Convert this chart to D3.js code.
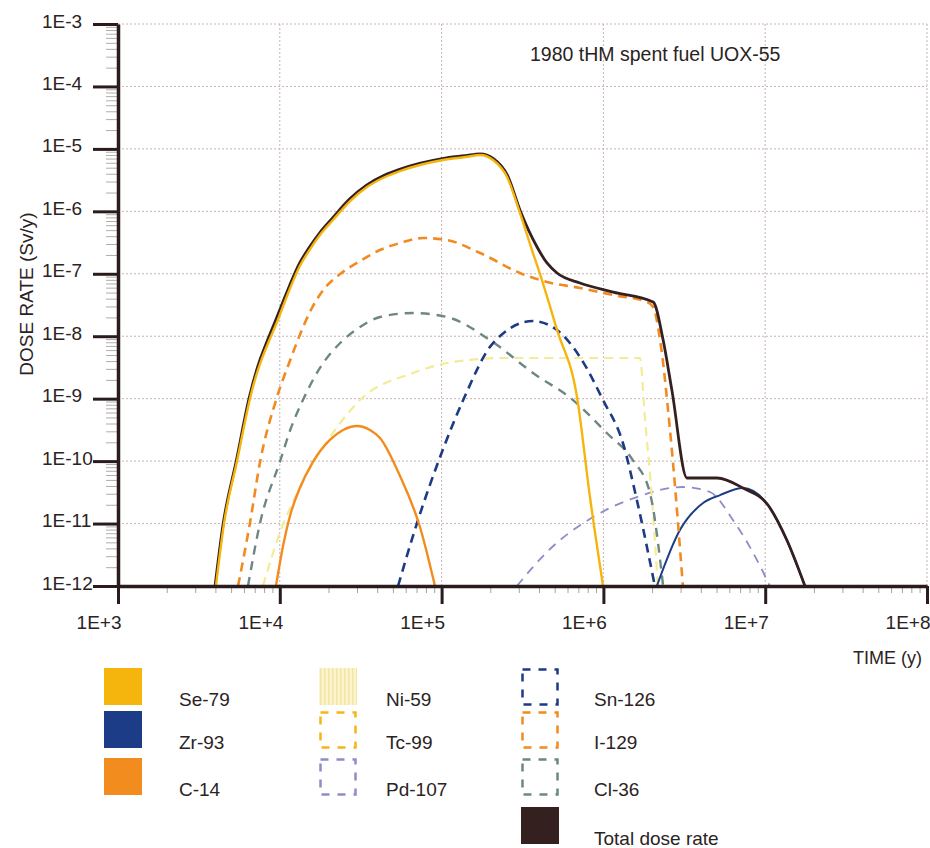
<!DOCTYPE html>
<html>
<head>
<meta charset="utf-8">
<script src="https://cdn.jsdelivr.net/npm/d3@7"></script>
<style>
  body { margin: 0; background: #fff; }
  svg { display: block; }
  text { font-family: "Liberation Sans", Arial, sans-serif; fill: #2b2323; }
</style>
</head>
<body>
<div id="chart"></div>
<script>
// tick values and labels
var xTicks = [1e3, 1e4, 1e5, 1e6, 1e7, 1e8];
var xTickLabels = ["1E+3", "1E+4", "1E+5", "1E+6", "1E+7", "1E+8"];
var yTicks = [1e-3, 1e-4, 1e-5, 1e-6, 1e-7, 1e-8, 1e-9, 1e-10, 1e-11, 1e-12];
var yTickLabels = ["1E-3", "1E-4", "1E-5", "1E-6", "1E-7", "1E-8", "1E-9", "1E-10", "1E-11", "1E-12"];

// [time (y), dose rate (Sv/y)]
var se79 = [[4.03e3,1e-12],[4.52e3,1e-11],[5.44e3,1e-10],[6.54e3,1e-9],[1.0e4,2.19e-8],[1.16e4,5.92e-8],
  [1.33e4,1.33e-7],[1.54e4,2.49e-7],[1.77e4,4.18e-7],[2.13e4,7.26e-7],[2.72e4,1.46e-6],[3.46e4,2.45e-6],
  [4.47e4,3.55e-6],[5.53e4,4.42e-6],[7.35e4,5.52e-6],[1.02e5,6.64e-6],[1.4e5,7.41e-6],[1.73e5,7.98e-6],
  [2.08e5,6.64e-6],[2.54e5,3.55e-6],[3.05e5,9.4e-7],[3.67e5,2.15e-7],[4.17e5,7.94e-8],[5.17e5,1.26e-8],
  [6.87e5,1.06e-9],[8.26e5,2.66e-11],[9.95e5,1e-12]];
var zr93 = [[2.14e6,1e-12],[2.97e6,7.87e-12],[4.13e6,2.13e-11],[5.26e6,2.86e-11],[7.29e6,3.71e-11],
  [1.04e7,1.98e-11],[1.36e7,5.45e-12],[1.76e7,1e-12]];
var c14 = [[9.47e3,1e-12],[1.05e4,4.53e-12],[1.16e4,1.37e-11],[1.33e4,3.71e-11],[1.6e4,9.66e-11],
  [2.04e4,2.18e-10],[2.46e4,3.15e-10],[3.0e4,3.65e-10],[3.61e4,3.15e-10],[4.16e4,2.34e-10],
  [5.53e4,5.77e-11],[7.35e4,8.8e-12],[9.1e4,1e-12]];
var ni59 = [[7.87e3,1e-12],[1.0e4,7.05e-12],[1.28e4,3.08e-11],[2.13e4,2.82e-10],[3.13e4,9.5e-10],
  [6.66e4,2.58e-9],[1.08e5,3.72e-9],[1.73e5,4.31e-9],[2.2e5,4.48e-9],[1.68e6,4.48e-9],
  [1.81e6,4.55e-10],[2.0e6,2.38e-11],[2.17e6,1e-12]];
var pd107 = [[2.92e5,1e-12],[4.68e5,3.91e-12],[8.63e5,1.27e-11],[1.61e6,2.66e-11],[3.1e6,3.85e-11],
  [4.56e6,3.2e-11],[6.32e6,1.14e-11],[8.05e6,4.2e-12],[1.07e7,1e-12]];
var sn126 = [[5.38e4,1e-12],[7.05e4,1.02e-11],[1.0e5,1.35e-10],[1.36e5,9.5e-10],[2.08e5,7.78e-9],
  [3.67e5,1.75e-8],[5.17e5,1.26e-8],[7.16e5,4.65e-9],[9.95e5,9.5e-10],[1.32e6,1.95e-10],
  [1.61e6,2.38e-11],[2.08e6,1e-12]];
var i129 = [[5.52e3,1e-12],[6.54e3,1.02e-11],[7.55e3,9.66e-11],[9.61e3,1.06e-9],[1.16e4,4.16e-9],
  [1.33e4,1.05e-8],[1.58e4,2.83e-8],[1.9e4,5.92e-8],[2.36e4,9.91e-8],[3.13e4,1.6e-7],[4.16e4,2.4e-7],
  [5.53e4,3.11e-7],[7.67e4,3.74e-7],[1.08e5,3.47e-7],[1.73e5,2.15e-7],[3.05e5,1.03e-7],[4.48e5,7.38e-8],
  [7.16e5,5.92e-8],[1.15e6,4.57e-8],[1.86e6,3.53e-8],[2.03e6,2.94e-8],[2.24e6,8.69e-9],[2.58e6,3.15e-10],
  [3.1e6,1e-12]];
var cl36 = [[6.36e3,1e-12],[7.55e3,1.02e-11],[1.0e4,9.66e-11],[1.16e4,3.15e-10],[1.39e4,9.5e-10],
  [1.77e4,3.1e-9],[2.36e4,7.78e-9],[3.13e4,1.4e-8],[4.16e4,2.03e-8],[6.66e4,2.35e-8],[1.08e5,2.03e-8],
  [1.99e5,8.69e-9],[3.67e5,2.58e-9],[6.49e5,9.5e-10],[1.05e6,2.82e-10],[1.52e6,1.04e-10],
  [1.94e6,3.08e-11],[2.34e6,1e-12]];
var total = [[3.98e3,1e-12],[4.47e3,1e-11],[5.38e3,1e-10],[6.45e3,1e-9],[9.85e3,2.4e-8],[1.15e4,6.5e-8],
  [1.32e4,1.45e-7],[1.53e4,2.7e-7],[1.76e4,4.5e-7],[2.12e4,7.85e-7],[2.7e4,1.57e-6],[3.44e4,2.62e-6],
  [4.45e4,3.8e-6],[5.5e4,4.7e-6],[7.3e4,5.85e-6],[1.01e5,7.0e-6],[1.4e5,7.8e-6],[1.73e5,8.35e-6],
  [2.09e5,7.0e-6],[2.55e5,3.8e-6],[3.07e5,1.0e-6],[3.89e5,2.68e-7],[4.48e5,1.49e-7],[5.17e5,1.03e-7],
  [7.16e5,7.11e-8],[1.15e6,5.1e-8],[2.03e6,3.53e-8],[2.34e6,8.7e-9],[2.65e6,1.37e-9],[3.29e6,5.36e-11],
  [5.04e6,5.36e-11],[7.29e6,3.71e-11],[1.04e7,1.98e-11],[1.36e7,5.45e-12],[1.76e7,1e-12]];

var legendNames = ["Se-79", "Zr-93", "C-14", "Ni-59", "Tc-99", "Pd-107", "Sn-126", "I-129", "Cl-36", "Total dose rate"];
var titleText = "1980 tHM spent fuel UOX-55";

// styles
var colors = {
  "Se-79": "#f6b50c", "Zr-93": "#1d3c88", "C-14": "#f38c1e", "Ni-59": "#f4eb97", "Tc-99": "#f5b519",
  "Pd-107": "#8c8cc8", "Sn-126": "#1c3a86", "I-129": "#f28a22", "Cl-36": "#6c8784", "Total dose rate": "#352020"
};

var series = [
  {name: "Pd-107", data: pd107, width: 1.8, dash: "9,7"},
  {name: "Ni-59", data: ni59, width: 2.2, dash: "9,6"},
  {name: "Cl-36", data: cl36, width: 2.4, dash: "9,7"},
  {name: "Sn-126", data: sn126, width: 2.6, dash: "9,6"},
  {name: "C-14", data: c14, width: 2.4, dash: null},
  {name: "Zr-93", data: zr93, width: 2, dash: null},
  {name: "I-129", data: i129, width: 2.6, dash: "9,6"},
  {name: "Total dose rate", data: total, width: 2.8, dash: null},
  {name: "Se-79", data: se79, width: 2.4, dash: null}
];

var svgWidth = 930, svgHeight = 848;
var margin = {left: 118, right: 3, top: 24, bottom: 262};

var svg = d3.select("#chart").append("svg")
  .attr("width", svgWidth)
  .attr("height", svgHeight);

// striped fill for the Ni-59 swatch
var pattern = svg.append("defs").append("pattern")
  .attr("id", "stripes").attr("patternUnits", "userSpaceOnUse")
  .attr("width", 4).attr("height", 4);
pattern.append("rect").attr("width", 4).attr("height", 4).attr("fill", "#fbf4cc");
pattern.append("rect").attr("width", 1.5).attr("height", 4).attr("fill", "#f2e6a4");

var x = d3.scaleLog().domain([1e3, 1e8]).range([margin.left, svgWidth - margin.right]);
var y = d3.scaleLog().domain([1e-12, 1e-3]).range([svgHeight - margin.bottom, margin.top]);

// grid
var grid = svg.append("g").attr("stroke", "#c6b3b3").attr("stroke-width", 1).attr("stroke-dasharray", "2,2");
grid.selectAll("line.h").data(yTicks).enter().append("line")
  .attr("x1", x(1e3)).attr("x2", x(1e8))
  .attr("y1", d => y(d)).attr("y2", d => y(d));
grid.selectAll("line.v").data(xTicks.slice(1)).enter().append("line")
  .attr("x1", d => x(d)).attr("x2", d => x(d))
  .attr("y1", y(1e-3)).attr("y2", y(1e-12));

// curves
var line = d3.line()
  .x(d => x(d[0]))
  .y(d => y(d[1]))
  .curve(d3.curveMonotoneX);

svg.append("g").selectAll("path").data(series).enter().append("path")
  .attr("d", d => line(d.data))
  .attr("fill", "none")
  .attr("stroke", d => colors[d.name])
  .attr("stroke-width", d => d.width)
  .attr("stroke-dasharray", d => d.dash)
  .attr("stroke-linejoin", "round");

// minor ticks
var xMinor = [], yMinor = [];
for (var e = 3; e < 8; e++) for (var k = 2; k < 10; k++) xMinor.push(k * Math.pow(10, e));
for (var e2 = -12; e2 < -3; e2++) for (var k2 = 2; k2 < 10; k2++) yMinor.push(k2 * Math.pow(10, e2));

var xMinorAxis = svg.append("g")
  .attr("transform", `translate(0, ${y(1e-12)})`)
  .call(d3.axisBottom(x).tickValues(xMinor).tickSize(7).tickFormat(""));
xMinorAxis.select(".domain").remove();
xMinorAxis.selectAll("line").attr("stroke", "#a9a0a0").attr("stroke-width", 1);

var yMinorAxis = svg.append("g")
  .attr("transform", `translate(${x(1e3)}, 0)`)
  .call(d3.axisLeft(y).tickValues(yMinor).tickSize(12).tickFormat(""));
yMinorAxis.select(".domain").remove();
yMinorAxis.selectAll("line").attr("stroke", "#b4abab").attr("stroke-width", 1);

// main axes
var xAxis = svg.append("g")
  .attr("transform", `translate(0, ${y(1e-12)})`)
  .call(d3.axisBottom(x).tickValues(xTicks).tickSize(18).tickSizeOuter(0)
    .tickFormat((d, i) => xTickLabels[i]));
xAxis.select(".domain").attr("stroke", "#2a1c1c").attr("stroke-width", 3.5);
xAxis.selectAll(".tick line").attr("stroke", "#2a1c1c").attr("stroke-width", 3);
xAxis.selectAll(".tick text")
  .attr("text-anchor", "end").attr("x", 3).attr("y", 43).attr("dy", null)
  .attr("font-size", 19).attr("fill", "#2b2323");

var yAxis = svg.append("g")
  .attr("transform", `translate(${x(1e3)}, 0)`)
  .call(d3.axisLeft(y).tickValues(yTicks).tickSize(25).tickSizeOuter(0)
    .tickFormat((d, i) => yTickLabels[i]));
yAxis.select(".domain").attr("stroke", "#2a1c1c").attr("stroke-width", 3.5);
yAxis.selectAll(".tick line").attr("stroke", "#2a1c1c").attr("stroke-width", 3);
yAxis.selectAll(".tick text")
  .attr("text-anchor", "start").attr("x", 42 - x(1e3)).attr("y", 3).attr("dy", null)
  .attr("font-size", 19).attr("fill", "#2b2323");

// titles
svg.append("text").attr("x", 530).attr("y", 61).attr("font-size", 19.5).text(titleText);
svg.append("text").attr("transform", "translate(33, 294) rotate(-90)")
  .attr("text-anchor", "middle").attr("font-size", 19).text("DOSE RATE (Sv/y)");
svg.append("text").attr("x", 853).attr("y", 664).attr("font-size", 18).text("TIME (y)");

// legend
var legendCol = [0, 0, 0, 1, 1, 1, 2, 2, 2, 2];
var legendRow = [0, 1, 2, 0, 1, 2, 0, 1, 2, 3];
var filled = {"Se-79": true, "Zr-93": true, "C-14": true, "Ni-59": true, "Total dose rate": true};
var colX = [104, 319, 521], labelX = [179, 386, 594], rowY = [668, 711, 758, 807];

var legend = svg.append("g").selectAll("g").data(legendNames).enter().append("g");
legend.append("rect")
  .attr("x", (d, i) => colX[legendCol[i]] + (filled[d] ? 0 : 1.5))
  .attr("y", (d, i) => rowY[legendRow[i]] + (filled[d] ? 0 : 1.5))
  .attr("width", d => filled[d] ? 38 : 35)
  .attr("height", d => filled[d] ? 37 : 35)
  .attr("fill", d => filled[d] ? (d === "Ni-59" ? "url(#stripes)" : colors[d]) : "none")
  .attr("stroke", d => filled[d] ? "none" : colors[d])
  .attr("stroke-width", 2.5)
  .attr("stroke-dasharray", "8,8");
legend.append("text")
  .attr("x", (d, i) => labelX[legendCol[i]])
  .attr("y", (d, i) => rowY[legendRow[i]] + 38)
  .attr("font-size", 19)
  .text(d => d);
</script>
</body>
</html>
